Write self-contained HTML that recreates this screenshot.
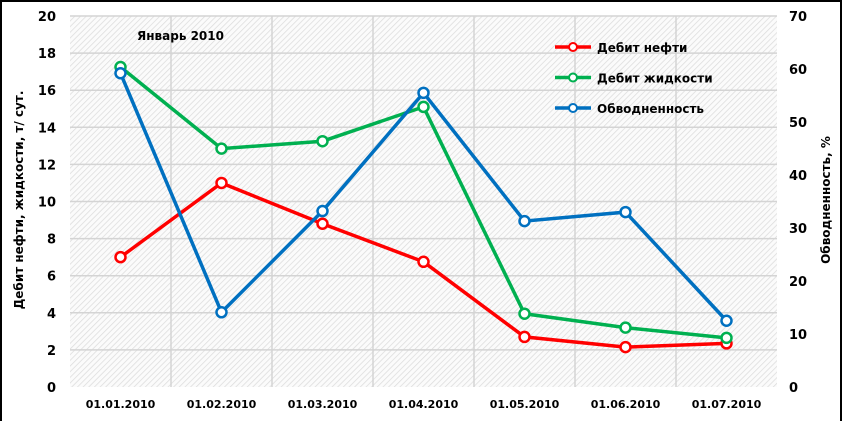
<!DOCTYPE html>
<html><head><meta charset="utf-8"><style>
body{margin:0;background:#fff;}
svg text{font-family:"DejaVu Sans","Liberation Sans",sans-serif;font-weight:bold;fill:#000;}
</style></head><body>
<svg id="c" width="843" height="421" xmlns="http://www.w3.org/2000/svg">
<defs>
<pattern id="hatch" width="4" height="4" patternUnits="userSpaceOnUse" patternTransform="rotate(45)">
<rect width="4" height="4" fill="#fbfbfb"/><line x1="0" y1="0" x2="0" y2="4" stroke="#dcdcdc" stroke-width="1.5"/>
</pattern>
</defs>
<rect x="1" y="1" width="840" height="425" fill="#fff" stroke="#000" stroke-width="2"/>
<rect x="70" y="16" width="707" height="371" fill="url(#hatch)"/>
<g id="grid"></g>
<g id="axes"></g>
<g id="series"></g>
<text x="137" y="40" font-size="12">Январь 2010</text>
<text transform="translate(23,200) rotate(-90)" text-anchor="middle" font-size="12">Дебит нефти, жидкости, т/ сут.</text>
<text transform="translate(830,200) rotate(-90)" text-anchor="middle" font-size="12">Обводненность, %</text>
<g id="legend"></g>
</svg>
<script>
const categories=["01.01.2010","01.02.2010","01.03.2010","01.04.2010","01.05.2010","01.06.2010","01.07.2010"];
const oilRate=[7,11,8.8,6.75,2.7,2.15,2.35];
const liquidRate=[17.25,12.85,13.25,15.1,3.95,3.2,2.65];
const waterCut=[59.2,14.1,33.2,55.5,31.3,33,12.5];
const leftTicks=[0,2,4,6,8,10,12,14,16,18,20];
const rightTicks=[0,10,20,30,40,50,60,70];
const L=70,R=777,T=16,B=387;
const NS="http://www.w3.org/2000/svg";
const bw=(R-L)/categories.length;
const x=i=>L+bw*(i+0.5);
const yL=v=>B-(v/20)*(B-T);
const yR=v=>B-(v/70)*(B-T);
function mk(tag,attrs,parent,text){const e=document.createElementNS(NS,tag);for(const k in attrs)e.setAttribute(k,attrs[k]);if(text!==undefined)e.textContent=text;document.getElementById(parent).appendChild(e);return e;}
leftTicks.forEach(t=>{
 if(t>0){const g=mk('line',{x1:L,x2:R,y1:yL(t),y2:yL(t),stroke:'#d4d4d4','stroke-width':1.5},'grid');
 
 }
 const e=mk('text',{x:56,y:yL(t)+5,'text-anchor':'end','font-size':13},'axes',t);
 
 
});
for(let i=1;i<categories.length;i++){
 const g=mk('line',{x1:L+bw*i,x2:L+bw*i,y1:T,y2:B,stroke:'#d4d4d4','stroke-width':1.5},'grid');
 
 
}
rightTicks.forEach(t=>{
 const e=mk('text',{x:789,y:yR(t)+5,'font-size':13},'axes',t);
 
 
});
categories.forEach((c,i)=>{
 const e=mk('text',{x:x(i),y:408,'text-anchor':'middle','font-size':11},'axes',c);
 
 
});
const series=[
 {name:'oil-rate',vals:oilRate,f:yL,color:'#ff0000',label:'Дебит нефти'},
 {name:'liquid-rate',vals:liquidRate,f:yL,color:'#00b050',label:'Дебит жидкости'},
 {name:'water-cut',vals:waterCut,f:yR,color:'#0070c0',label:'Обводненность'}
];
series.forEach((s,k)=>{
 const pl=mk('polyline',{points:s.vals.map((v,i)=>x(i)+','+s.f(v)).join(' '),fill:'none',stroke:s.color,'stroke-width':3.5},'series');
 
 
 s.vals.forEach((v,i)=>{
  const c=mk('circle',{cx:x(i),cy:s.f(v),r:5,fill:'#fff',stroke:s.color,'stroke-width':2.5},'series');
  
  
 });
 const ly=47+k*30.5;
 const ll=mk('line',{x1:555,x2:591,y1:ly,y2:ly,stroke:s.color,'stroke-width':3.5},'legend');
 
 
 const lc=mk('circle',{cx:573,cy:ly,r:4,fill:'#fff',stroke:s.color,'stroke-width':2},'legend');
 
 
 const lt=mk('text',{x:597,y:ly+5,'font-size':12},'legend',s.label);
 
 
});
</script>
</body></html>
